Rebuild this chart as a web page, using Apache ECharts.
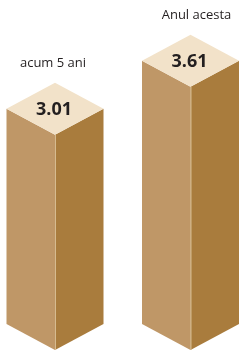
<!DOCTYPE html>
<html>
<head>
<meta charset="utf-8">
<script src="https://cdn.jsdelivr.net/npm/echarts@6/dist/echarts.min.js"></script>
<style>
  html, body { margin: 0; padding: 0; background: #fff; }
  #main { width: 243px; height: 354px; }
</style>
</head>
<body>
<div id="main"></div>
<script>
var categories = ["acum 5 ani", "Anul acesta"];
var values = [3.01, 3.61];

var COLOR = {
  top: "#f2e2c9",
  left: "#bf9767",
  right: "#a97c3d",
  seam: "#d6bb90",
  text: "#231f20"
};

// jumatate din latimea cutiei si inaltimea perspectivei
var HALF_W = 48.5;
var DEPTH = 26;
var AXIS_MIN = 0.32;
var NAME_DX = [-2, 6];

var myChart = echarts.init(document.getElementById('main'), null, { renderer: 'canvas' });

function renderBox(params, api) {
  var idx = api.value(0);
  var top = api.coord([idx, api.value(1)]);
  var base = api.coord([idx, AXIS_MIN]);
  var cx = top[0], yt = top[1], yb = base[1];
  var l = cx - HALF_W, r = cx + HALF_W;
  return {
    type: 'group',
    children: [
      {
        type: 'polygon',
        shape: { points: [[l, yt - DEPTH], [cx, yt], [cx, yb], [l, yb - DEPTH]] },
        style: { fill: COLOR.left }
      },
      {
        type: 'polygon',
        shape: { points: [[cx, yt], [r, yt - DEPTH], [r, yb - DEPTH], [cx, yb]] },
        style: { fill: COLOR.right }
      },
      {
        type: 'polygon',
        shape: { points: [[l, yt - DEPTH], [cx, yt - 2 * DEPTH], [r, yt - DEPTH], [cx, yt]] },
        style: { fill: COLOR.top }
      },
      {
        type: 'line',
        shape: { x1: cx + 0.5, y1: yt, x2: cx + 0.5, y2: yb },
        style: { stroke: COLOR.seam, lineWidth: 1 }
      },
      {
        type: 'text',
        x: cx - 1, y: yt - DEPTH + 1,
        style: {
          text: api.value(1).toFixed(2),
          fill: COLOR.text,
          font: 'bold 18px "Open Sans", sans-serif',
          align: 'center',
          verticalAlign: 'middle'
        }
      },
      {
        type: 'text',
        x: cx + NAME_DX[idx], y: yt - 2 * DEPTH - 20,
        style: {
          text: categories[idx],
          fill: COLOR.text,
          font: '13px "Open Sans", sans-serif',
          align: 'center',
          verticalAlign: 'middle'
        }
      }
    ]
  };
}

myChart.setOption({
  animation: false,
  grid: { left: 55, right: 52.5, top: 30, bottom: 4 },
  xAxis: {
    type: 'category',
    data: categories,
    boundaryGap: false,
    show: false
  },
  yAxis: {
    type: 'value',
    min: AXIS_MIN,
    max: 4.32,
    show: false
  },
  series: [{
    type: 'custom',
    renderItem: renderBox,
    data: values.map(function (v, i) { return [i, v]; })
  }]
});
</script>
</body>
</html>
